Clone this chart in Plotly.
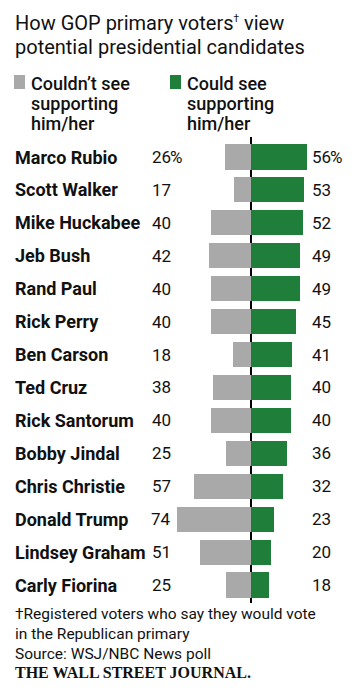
import plotly.graph_objects as go

names = ["Marco Rubio", "Scott Walker", "Mike Huckabee", "Jeb Bush", "Rand Paul",
         "Rick Perry", "Ben Carson", "Ted Cruz", "Rick Santorum", "Bobby Jindal",
         "Chris Christie", "Donald Trump", "Lindsey Graham", "Carly Fiorina"]
couldnt_see = [26, 17, 40, 42, 40, 40, 18, 38, 40, 25, 57, 74, 51, 25]
could_see = [56, 53, 52, 49, 49, 45, 41, 40, 40, 36, 32, 23, 20, 18]

title_lines = ["How GOP primary voters<sup><span style='font-size:10px'>†</span></sup> view",
               "potential presidential candidates"]
legend_gray = ["Couldn’t see", "supporting", "him/her"]
legend_green = ["Could see", "supporting", "him/her"]
notes = ["†Registered voters who say they would vote", "in the Republican primary",
         "Source: WSJ/NBC News poll"]
logo = "THE WALL STREET JOURNAL."

GRAY = "#aaa9a9"
GREEN = "#1f7e3a"
INK = "#111111"
W, H = 359, 694


def px(x):
    return x / W


def py(y):
    return 1 - y / H


rows = list(range(len(names)))
scale = 1.005  # px per percentage point
center = 251
top_px, row0_px, pitch, bottom_px = 137, 157, 32.92, 603

fig = go.Figure()
fig.add_trace(go.Bar(y=rows, x=[-v for v in couldnt_see], orientation="h",
                     marker=dict(color=GRAY, line=dict(width=0)), width=0.76,
                     hoverinfo="skip", showlegend=False))
fig.add_trace(go.Bar(y=rows, x=could_see, orientation="h",
                     marker=dict(color=GREEN, line=dict(width=0)), width=0.76,
                     hoverinfo="skip", showlegend=False))

ann = []
name_font = dict(family="Roboto", size=18, color=INK, weight=700)
num_font = dict(family="Roboto", size=17, color=INK, weight=400)
for i, (n, a, b) in enumerate(zip(names, couldnt_see, could_see)):
    ann.append(dict(x=px(14), xref="paper", y=i, yref="y", text=n, showarrow=False,
                    xanchor="left", yanchor="middle", font=name_font, borderpad=0))
    ann.append(dict(x=px(172), xref="paper", y=i, yref="y", text=str(a), showarrow=False,
                    xanchor="right", yanchor="middle", font=num_font, borderpad=0))
    ann.append(dict(x=px(332), xref="paper", y=i, yref="y", text=str(b), showarrow=False,
                    xanchor="right", yanchor="middle", font=num_font, borderpad=0))
    if i == 0:
        for xx in (172, 332):
            ann.append(dict(x=px(xx), xref="paper", y=i, yref="y", text="%", showarrow=False,
                            xanchor="left", yanchor="middle", font=num_font, borderpad=0,
                            xshift=-3))

title_font = dict(family="Roboto", size=20, color=INK, weight=400)
for t, yy in zip(title_lines, (23.5, 46.5)):
    ann.append(dict(x=px(14), xref="paper", y=py(yy), yref="paper", text=t, showarrow=False,
                    xanchor="left", yanchor="middle", font=title_font, borderpad=0))

leg_font = dict(family="Roboto", size=18, color=INK, weight=500)
for lines, xx in ((legend_gray, 30), (legend_green, 186)):
    for t, yy in zip(lines, (83.5, 103.5, 123.5)):
        ann.append(dict(x=px(xx), xref="paper", y=py(yy), yref="paper", text=t,
                        showarrow=False, xanchor="left", yanchor="middle", font=leg_font,
                        borderpad=0))

note_font = dict(family="Roboto", size=15.5, color=INK, weight=400)
for t, yy in zip(notes, (614, 634, 653.5)):
    ann.append(dict(x=px(14), xref="paper", y=py(yy), yref="paper", text=t, showarrow=False,
                    xanchor="left", yanchor="middle", font=note_font, borderpad=0))
ann.append(dict(x=px(14), xref="paper", y=py(672), yref="paper", text=logo, showarrow=False,
                xanchor="left", yanchor="middle", borderpad=0,
                font=dict(family="Liberation Serif", size=16, color=INK, weight=700)))

shapes = [
    dict(type="rect", xref="paper", yref="paper", x0=px(14), x1=px(25), y0=py(89), y1=py(75),
         fillcolor=GRAY, line=dict(width=0)),
    dict(type="rect", xref="paper", yref="paper", x0=px(170), x1=px(181), y0=py(89), y1=py(75),
         fillcolor=GREEN, line=dict(width=0)),
]

fig.update_layout(
    width=W, height=H, margin=dict(l=0, r=0, t=0, b=0),
    paper_bgcolor="white", plot_bgcolor="white",
    barmode="overlay", bargap=0,
    annotations=ann, shapes=shapes,
    xaxis=dict(range=[-center / scale, (W - center) / scale], domain=[0, 1],
               showgrid=False, showticklabels=False, ticks="",
               zeroline=True, zerolinecolor="black", zerolinewidth=1.5, fixedrange=True),
    yaxis=dict(range=[13 + (bottom_px - 585) / pitch, -(row0_px - top_px) / pitch],
               domain=[py(bottom_px), py(top_px)],
               showgrid=False, showticklabels=False, ticks="", zeroline=False, fixedrange=True),
)

fig.write_html("out.html", config={"displayModeBar": False},
               post_script="document.body.style.margin='0';document.body.style.overflow='hidden';")
